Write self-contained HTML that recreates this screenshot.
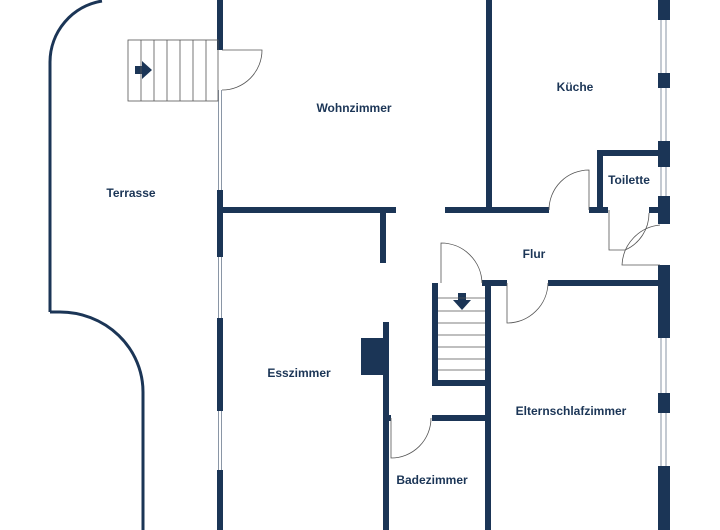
<!DOCTYPE html>
<html><head><meta charset="utf-8"><style>
html,body{margin:0;padding:0;background:#fff;}
svg{display:block;}
text{font-family:"Liberation Sans",sans-serif;font-size:12px;font-weight:bold;fill:#1b3556;text-anchor:middle;}
</style></head><body>
<svg width="720" height="530" viewBox="0 0 720 530" xmlns="http://www.w3.org/2000/svg">
<g fill="none" stroke="#1b3556" stroke-width="3">
<path d="M50,312 L50,62 A62,62 0 0 1 102,1"/>
<path d="M50,312 L60,312 A83,80 0 0 1 143,392 L143,530"/>
</g>
<g fill="#1b3556">
<!-- main vertical wall -->
<rect x="217" y="0" width="6" height="50"/>
<rect x="217" y="190" width="6" height="67"/>
<rect x="217" y="318" width="6" height="93"/>
<rect x="217" y="470" width="6" height="60"/>
<!-- horizontal y=210 -->
<rect x="217" y="207" width="179" height="6"/>
<rect x="380" y="207" width="6" height="56"/>
<rect x="445" y="207" width="104" height="6"/>
<rect x="486" y="0" width="6" height="210"/>
<rect x="589" y="207" width="19" height="6"/>
<rect x="597" y="150" width="6" height="60"/>
<rect x="597" y="150" width="63" height="6"/>
<rect x="649" y="207" width="11" height="6"/>
<!-- right exterior -->
<rect x="658" y="0" width="12" height="20"/>
<rect x="658" y="73" width="12" height="15"/>
<rect x="658" y="141" width="12" height="26"/>
<rect x="658" y="196" width="12" height="28"/>
<rect x="658" y="265" width="12" height="73"/>
<rect x="658" y="393" width="12" height="20"/>
<rect x="658" y="466" width="12" height="64"/>
<!-- flur bottom -->
<rect x="482" y="280" width="25" height="6"/>
<rect x="548" y="280" width="112" height="6"/>
<!-- stairs -->
<rect x="432" y="283" width="6" height="102"/>
<rect x="432" y="380" width="55" height="6"/>
<rect x="485" y="283" width="6" height="247"/>
<!-- bad -->
<rect x="383" y="322" width="6" height="208"/>
<rect x="361" y="338" width="25" height="37"/>
<rect x="432" y="415" width="55" height="6"/>
<rect x="383" y="415" width="8" height="6"/>
<!-- arrows -->
<path d="M135,66 h7 v-5 l10,9 l-10,9 v-5 h-7z"/>
<path d="M458,293 v7 h-5 l9,10 l9,-10 h-5 v-7z"/>
</g>
<g fill="none" stroke="#8a96a6" stroke-width="1">
<!-- windows -->
<path d="M218.5,90 V190 M221.5,90 V190 M218.5,257 V318 M221.5,257 V318 M218.5,411 V470 M221.5,411 V470"/>
<path d="M661,20 V73 M666,20 V73 M661,88 V141 M666,88 V141 M661,167 V196 M666,167 V196 M661,338 V393 M666,338 V393 M661,413 V466 M666,413 V466"/>
</g>
<g fill="none" stroke="#555" stroke-width="0.8">
<rect x="128" y="40" width="90" height="61"/>
<path d="M141,40V101 M154,40V101 M167,40V101 M180,40V101 M193,40V101 M206,40V101"/>
<path d="M438,298H485 M438,311H485 M438,323H485 M438,335H485 M438,347H485 M438,359H485 M438,370H485"/>
<!-- doors -->
<path d="M222,50 H262 A40,40 0 0 1 222,90"/>
<path d="M589,210 V170 A40,40 0 0 0 549,210"/>
<path d="M609,210 V250 H625 A40,40 0 0 0 649,213"/>
<path d="M660,265 H622 A42,42 0 0 1 660,225"/>
<path d="M507,283 V323 A41,41 0 0 0 548,283"/>
<path d="M441,283 V243 A41,41 0 0 1 482,283"/>
<path d="M391,418 V458 A40,40 0 0 0 431,418"/>
</g>
<text x="354" y="112">Wohnzimmer</text>
<text x="575" y="91">Küche</text>
<text x="629" y="184">Toilette</text>
<text x="131" y="197">Terrasse</text>
<text x="534" y="258">Flur</text>
<text x="299" y="377">Esszimmer</text>
<text x="571" y="415">Elternschlafzimmer</text>
<text x="432" y="484">Badezimmer</text>
</svg>
</body></html>
